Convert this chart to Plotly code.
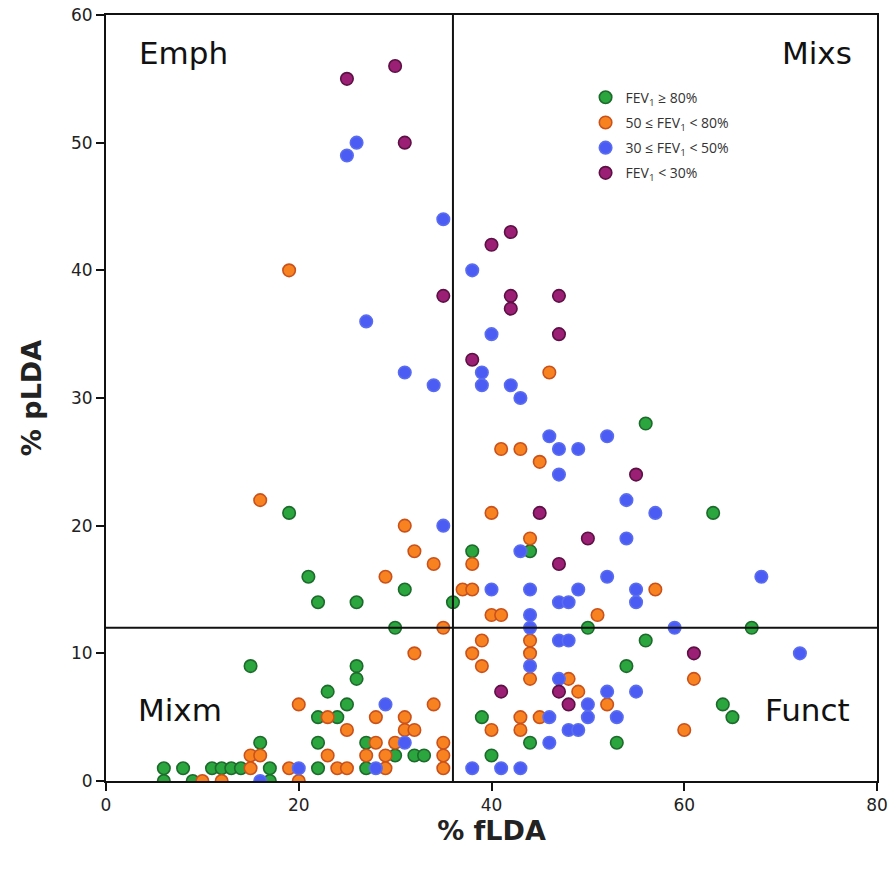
import plotly.graph_objects as go

# ---- data: (% fLDA, % pLDA) per FEV1 group ----
green_x = [19, 21, 22, 26, 31, 36, 38, 44, 56, 63, 50, 67, 56, 54, 64, 65, 53, 39, 44, 40,
           30, 26, 26, 23, 25, 22, 24, 22, 27, 30, 32, 33, 22, 27, 15, 16, 6, 8, 11, 12, 13, 14, 17, 6, 9, 17]
green_y = [21, 16, 14, 14, 15, 14, 18, 18, 28, 21, 12, 12, 11, 9, 6, 5, 3, 5, 3, 2,
           12, 9, 8, 7, 6, 5, 5, 3, 3, 2, 2, 2, 1, 1, 9, 3, 1, 1, 1, 1, 1, 1, 1, 0, 0, 0]

orange_x = [19, 46, 41, 43, 45, 40, 31, 44, 32, 34, 38, 29, 37, 38, 40, 41, 51, 57, 16, 35,
            39, 44, 32, 38, 44, 39, 44, 48, 61, 49, 52, 34, 20, 43, 45, 28, 31, 23, 40, 43,
            60, 25, 31, 32, 28, 30, 35, 23, 27, 29, 35, 15, 16, 19, 24, 25, 29, 35, 15, 10, 12, 20]
orange_y = [40, 32, 26, 26, 25, 21, 20, 19, 18, 17, 17, 16, 15, 15, 13, 13, 13, 15, 22, 12,
            11, 11, 10, 10, 10, 9, 8, 8, 8, 7, 6, 6, 6, 5, 5, 5, 5, 5, 4, 4,
            4, 4, 4, 4, 3, 3, 3, 2, 2, 2, 2, 2, 2, 1, 1, 1, 1, 1, 1, 0, 0, 0]

blue_x = [26, 25, 35, 38, 27, 40, 31, 34, 39, 39, 42, 43, 46, 52, 47, 49, 47, 54, 57, 54,
          35, 43, 52, 68, 40, 44, 49, 55, 47, 48, 55, 44, 44, 59, 47, 48, 72, 44, 47, 52,
          55, 50, 46, 50, 53, 48, 49, 46, 38, 41, 43, 29, 31, 28, 20, 16]
blue_y = [50, 49, 44, 40, 36, 35, 32, 31, 32, 31, 31, 30, 27, 27, 26, 26, 24, 22, 21, 19,
          20, 18, 16, 16, 15, 15, 15, 15, 14, 14, 14, 13, 12, 12, 11, 11, 10, 9, 8, 7,
          7, 6, 5, 5, 5, 4, 4, 3, 1, 1, 1, 6, 3, 1, 1, 0]

purple_x = [25, 30, 31, 35, 40, 42, 42, 42, 47, 47, 38, 55, 45, 50, 47, 61, 41, 47, 48]
purple_y = [55, 56, 50, 38, 42, 43, 38, 37, 38, 35, 33, 24, 21, 19, 17, 10, 7, 7, 6]

group_names = ["FEV<sub>1</sub> ≥ 80%", "50 ≤ FEV<sub>1</sub> < 80%",
               "30 ≤ FEV<sub>1</sub> < 50%", "FEV<sub>1</sub> < 30%"]

x_ticks = [0, 20, 40, 60, 80]
y_ticks = [0, 10, 20, 30, 40, 50, 60]
x_cut = 36   # fLDA threshold
y_cut = 12   # pLDA threshold

quadrant_labels = ["Emph", "Mixs", "Mixm", "Funct"]
quadrant_pos_x = [8, 73.8, 7.7, 72.8]
quadrant_pos_y = [57, 57, 5.6, 5.6]

# ---- styles ----
fills = ["#2ba53d", "#f98220", "#4a5cf3", "#9b1f74"]
edges = ["#1d6b2c", "#c9521c", "#5a6cf0", "#5c1044"]

series = [(green_x, green_y), (orange_x, orange_y), (blue_x, blue_y), (purple_x, purple_y)]

fig = go.Figure()
for i, ((xs, ys), name, fc, ec) in enumerate(zip(series, group_names, fills, edges)):
    fig.add_trace(go.Scatter(
        x=xs, y=ys, mode="markers", name=name, legendgroup=f"g{i}",
        marker=dict(size=12.5, color=fc, line=dict(color=ec, width=1.6)),
    ))

fig.add_vline(x=x_cut, line=dict(color="#111", width=2))
fig.add_hline(y=y_cut, line=dict(color="#111", width=2))

for t, px, py in zip(quadrant_labels, quadrant_pos_x, quadrant_pos_y):
    fig.add_annotation(x=px, y=py, xref="x", yref="y", text=t, showarrow=False,
                       font=dict(family="DejaVu Sans", size=31, color="#111"))

axis_common = dict(showgrid=False, zeroline=False, showline=True, linecolor="#111",
                   linewidth=2, mirror=True, ticks="outside", ticklen=8, tickwidth=2,
                   tickcolor="#111", automargin=False,
                   tickfont=dict(family="DejaVu Sans", size=17, color="#222"))

fig.update_xaxes(range=[0, 80], tickvals=x_ticks,
                 title=dict(text="<b>% fLDA</b>", font=dict(family="DejaVu Sans", size=27, color="#222"),
                            standoff=7),
                 **axis_common)
fig.update_yaxes(range=[0, 60], tickvals=y_ticks,
                 title=dict(text="<b>% pLDA</b>", font=dict(family="DejaVu Sans", size=27, color="#222"),
                            standoff=22),
                 **axis_common)

fig.update_layout(
    width=893, height=877,
    margin=dict(l=106, r=16, t=15, b=96),
    plot_bgcolor="white", paper_bgcolor="white",
    legend=dict(x=0.622, y=0.913, xanchor="left", yanchor="top", tracegroupgap=4,
                bgcolor="rgba(0,0,0,0)", font=dict(family="Open Sans", size=14, color="#333"),
                itemwidth=30),
)

fig.write_html("out.html")
